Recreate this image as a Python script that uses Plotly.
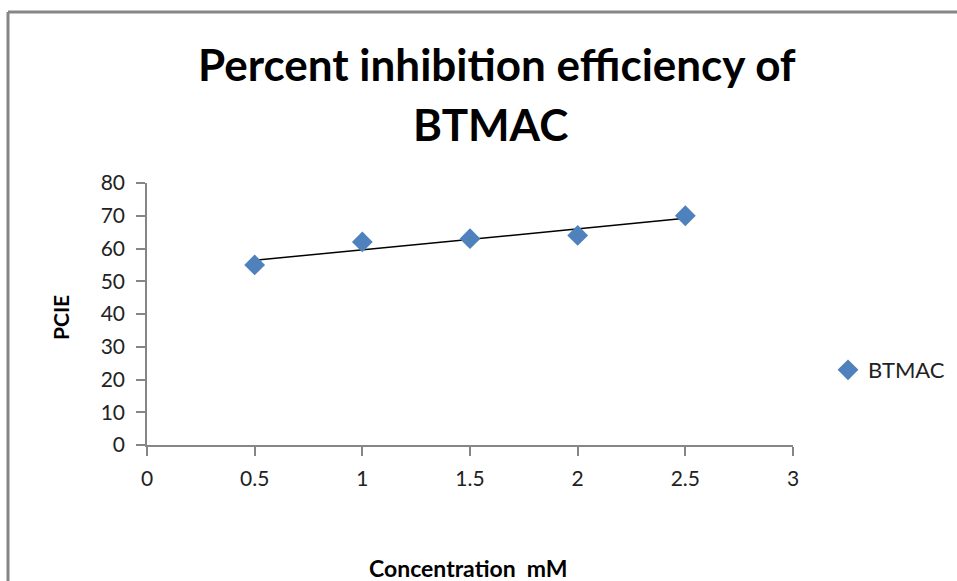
import numpy as np
import plotly.graph_objects as go

concentration = [0.5, 1.0, 1.5, 2.0, 2.5]
pcie = [55, 62, 63, 64, 70]
series_name = "BTMAC"
x_ticks = [0, 0.5, 1, 1.5, 2, 2.5, 3]
x_tick_text = ["0", "0.5", "1", "1.5", "2", "2.5", "3"]
y_ticks = [0, 10, 20, 30, 40, 50, 60, 70, 80]

slope, intercept = np.polyfit(concentration, pcie, 1)
trend_x = [concentration[0], concentration[-1]]
trend_y = [slope * v + intercept for v in trend_x]

FONT = "Lato"
W, H = 957, 581
L, R, T, B = 147, 164, 183, 136
pw, ph = W - L - R, H - T - B

def px_x(p):
    return (p - L) / pw

def px_y(p):
    return (H - B - p) / ph

fig = go.Figure()
fig.add_trace(go.Scatter(
    x=trend_x, y=trend_y, mode="lines",
    line=dict(color="black", width=1.5), showlegend=False, hoverinfo="skip"))
fig.add_trace(go.Scatter(
    x=concentration, y=pcie, mode="markers", name=series_name,
    marker=dict(symbol="diamond", size=16, color="#4F81BD",
                line=dict(color="#4F81BD", width=0))))

axis_common = dict(
    showgrid=False, zeroline=False, showline=True, linecolor="#868686",
    linewidth=1.5, ticks="outside", ticklen=9, tickcolor="#868686", tickwidth=1.5,
    tickfont=dict(family=FONT, size=21, color="#222222"))

fig.update_xaxes(range=[0, 3], tickvals=x_ticks, ticktext=x_tick_text,
                 ticklabelstandoff=5, **axis_common)
fig.update_yaxes(range=[0, 80], tickvals=y_ticks, ticklabelstandoff=7,
                 **axis_common)

fig.update_layout(
    width=W, height=H, margin=dict(l=L, r=R, t=T, b=B, autoexpand=False),
    paper_bgcolor="white", plot_bgcolor="white",
    showlegend=True,
    legend=dict(x=px_x(828), y=px_y(370), xanchor="left", yanchor="middle",
                font=dict(family=FONT, size=22, color="#222222"),
                bgcolor="rgba(0,0,0,0)", itemwidth=30),
    annotations=[
        dict(text="<b>Percent inhibition efficiency of</b>", xref="paper", yref="paper",
             x=px_x(497), y=px_y(64), xanchor="center", yanchor="middle",
             showarrow=False, font=dict(family=FONT, size=44, color="black")),
        dict(text="<b>BTMAC</b>", xref="paper", yref="paper",
             x=px_x(490), y=px_y(124), xanchor="center", yanchor="middle",
             showarrow=False, font=dict(family=FONT, size=44, color="black")),
        dict(text="<b>PCIE</b>", xref="paper", yref="paper",
             x=px_x(60), y=px_y(318), xanchor="center", yanchor="middle",
             textangle=-90, showarrow=False,
             font=dict(family=FONT, size=21, color="black")),
        dict(text="<b>Concentration  mM</b>", xref="paper", yref="paper",
             x=px_x(468), y=px_y(568), xanchor="center", yanchor="middle",
             showarrow=False, font=dict(family=FONT, size=23, color="black")),
    ],
    shapes=[
        dict(type="line", xref="paper", yref="paper",
             x0=px_x(8), x1=px_x(W + 5), y0=px_y(12), y1=px_y(12),
             line=dict(color="#868686", width=3)),
        dict(type="line", xref="paper", yref="paper",
             x0=px_x(8), x1=px_x(8), y0=px_y(12), y1=px_y(H + 5),
             line=dict(color="#868686", width=3)),
    ],
)

fig.write_html("out.html")
